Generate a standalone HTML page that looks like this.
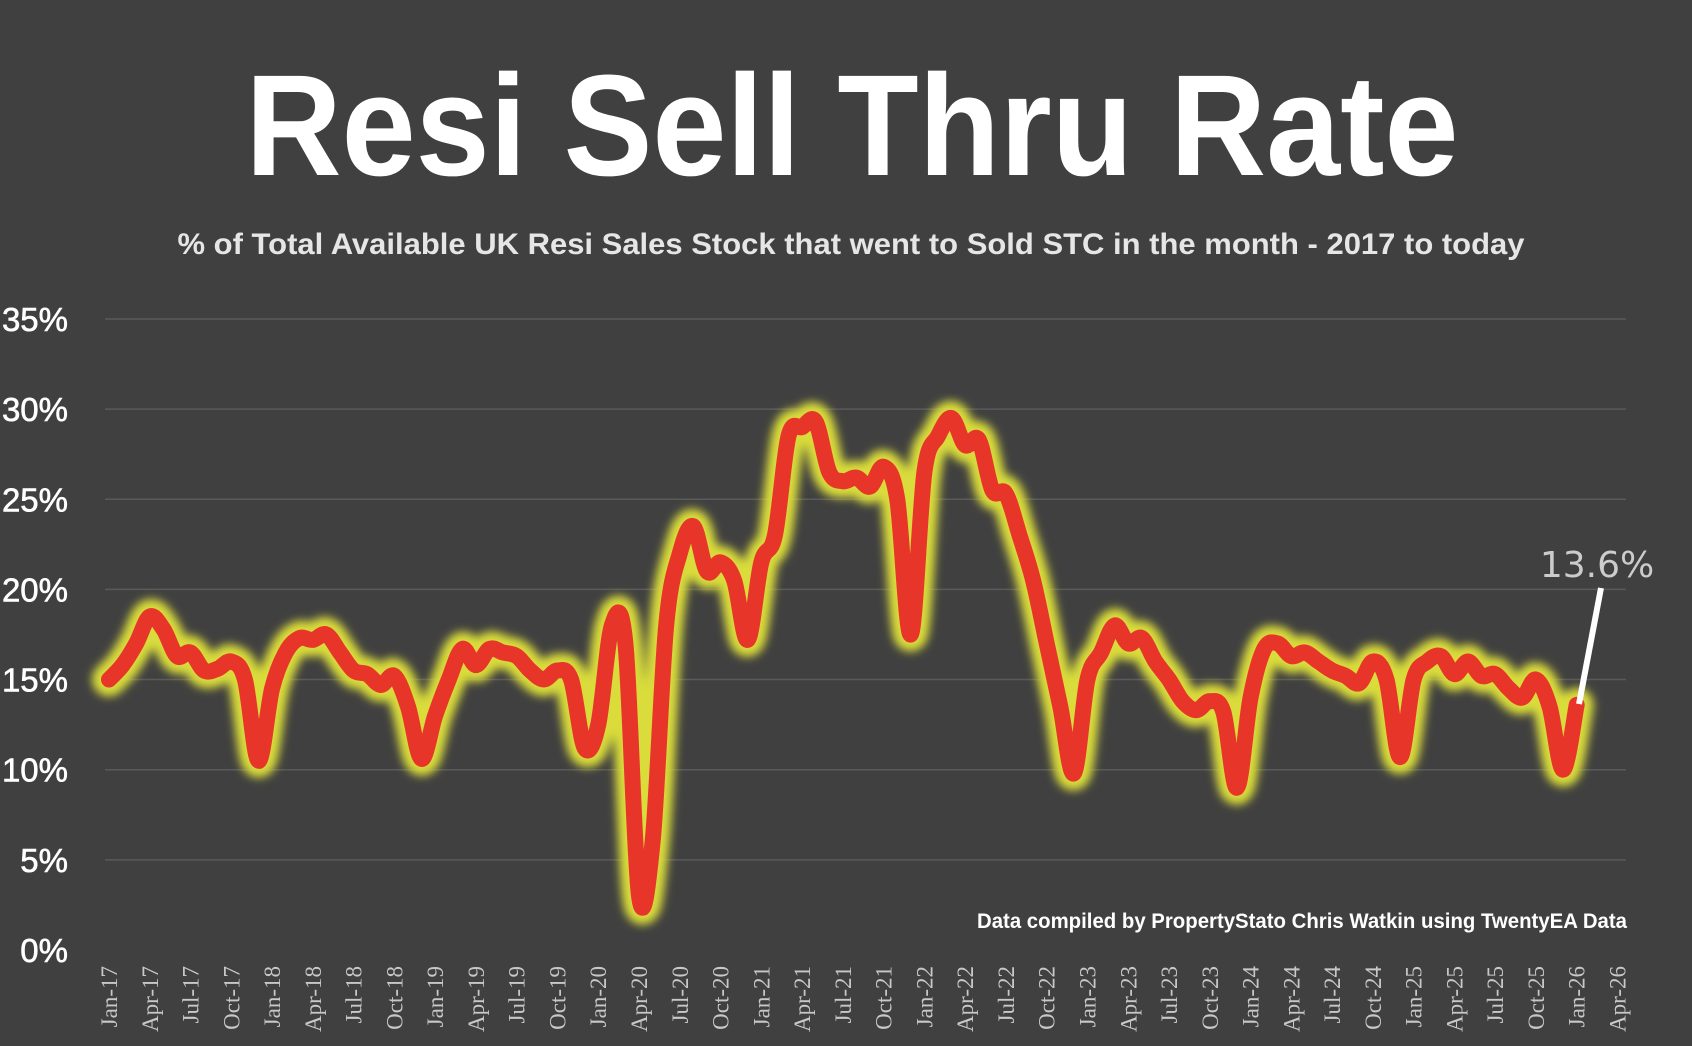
<!DOCTYPE html>
<html><head><meta charset="utf-8"><style>
html,body{margin:0;padding:0;background:#404040;}
svg{display:block}
</style></head><body>
<svg id="s" width="1692" height="1046" viewBox="0 0 1692 1046" xmlns="http://www.w3.org/2000/svg">
<defs><filter id="blur" x="-5%" y="-5%" width="110%" height="110%"><feGaussianBlur stdDeviation="4.5"/></filter></defs>
<rect width="1692" height="1046" fill="#404040"/>
<text x="852" y="175" text-anchor="middle" font-family="Liberation Sans, sans-serif" font-weight="bold" font-size="144" fill="#ffffff" textLength="1213" lengthAdjust="spacingAndGlyphs">Resi Sell Thru Rate</text>
<text x="851" y="254" text-anchor="middle" font-family="Liberation Sans, sans-serif" font-weight="bold" font-size="30" fill="#e6e6e6" textLength="1347" lengthAdjust="spacingAndGlyphs">% of Total Available UK Resi Sales Stock that went to Sold STC in the month - 2017 to today</text>
<g id="grid" stroke="#5a5a5a" stroke-width="1.5"></g>
<g id="ylab" font-family="Liberation Sans, sans-serif" font-size="33" fill="#ffffff" text-anchor="end" stroke="#ffffff" stroke-width="0.6"></g>
<g id="xlab" font-family="Liberation Serif, serif" font-size="23" fill="#c8c8c8" text-anchor="end"></g>
<path id="glow" fill="none" stroke="#d9dc3a" stroke-width="34" stroke-linejoin="round" stroke-linecap="round" filter="url(#blur)"/>
<path id="line" fill="none" stroke="#e8352a" stroke-width="16" stroke-linejoin="round" stroke-linecap="round"/>
<line x1="1601" y1="588" x2="1579" y2="704" stroke="#ffffff" stroke-width="6"/>
<text x="1597" y="577" text-anchor="middle" font-family="DejaVu Sans, sans-serif" font-size="36" fill="#cccccc">13.6%</text>
<text x="1627" y="928" text-anchor="end" font-family="Liberation Sans, sans-serif" font-weight="bold" font-size="21" fill="#ffffff" textLength="650" lengthAdjust="spacingAndGlyphs">Data compiled by PropertyStato Chris Watkin using TwentyEA Data</text>
</svg>
<script>
var ns="http://www.w3.org/2000/svg";
function Y(v){return 950-v*18.03;}
function X(i){return 109+13.59*i;}
var g=document.getElementById('grid'),yl=document.getElementById('ylab'),xl=document.getElementById('xlab');
for(var k=0;k<=7;k++){var y=Y(k*5);
 if(k>0){var l=document.createElementNS(ns,'line');l.setAttribute('x1',105);l.setAttribute('x2',1626);l.setAttribute('y1',y);l.setAttribute('y2',y);g.appendChild(l);}
 var t=document.createElementNS(ns,'text');t.setAttribute('x',68);t.setAttribute('y',y+12);t.textContent=(k*5)+'%';yl.appendChild(t);}
var m=['Jan','Apr','Jul','Oct'];
for(var q=0;q<38;q++){var yr=17+Math.floor(q/4);var x=X(q*3)+8;
 var t=document.createElementNS(ns,'text');t.setAttribute('transform','translate('+x+',966) rotate(-90)');t.textContent=m[q%4]+'-'+yr;xl.appendChild(t);}
var d=[15,15.8,17,18.5,17.8,16.3,16.5,15.5,15.6,16,15,10.5,
14.5,16.5,17.3,17.2,17.5,16.5,15.5,15.3,14.7,15.2,13.5,10.6,
13,15,16.7,15.8,16.7,16.5,16.3,15.5,15,15.5,15,11.2,
12.5,18,17,3,6,18,22,23.5,21,21.5,20.5,17.2,
21.5,23,28.5,29,29.3,26.5,26,26.2,25.7,26.8,25,17.5,
26.5,28.5,29.5,28,28.3,25.5,25.3,23,20.5,17,13.5,9.8,
15,16.5,18,17,17.3,16,15,13.8,13.3,13.8,13.2,9,
14,16.7,17,16.3,16.5,16,15.5,15.2,14.8,16,15,10.7,
15,16,16.3,15.3,16,15.2,15.3,14.5,14,15,13.5,10,13.6];
var p=d.map(function(v,i){return [X(i),Y(v)];});
var s='M'+p[0][0]+','+p[0][1];
for(var i=0;i<p.length-1;i++){var p0=p[i-1]||p[i],p1=p[i],p2=p[i+1],p3=p[i+2]||p2;
 var c1x=p1[0]+(p2[0]-p0[0])/6,c1y=p1[1]+(p2[1]-p0[1])/6,c2x=p2[0]-(p3[0]-p1[0])/6,c2y=p2[1]-(p3[1]-p1[1])/6;
 s+=' C'+c1x+','+c1y+' '+c2x+','+c2y+' '+p2[0]+','+p2[1];}
document.getElementById('glow').setAttribute('d',s);
document.getElementById('line').setAttribute('d',s);
</script>
</body></html>
